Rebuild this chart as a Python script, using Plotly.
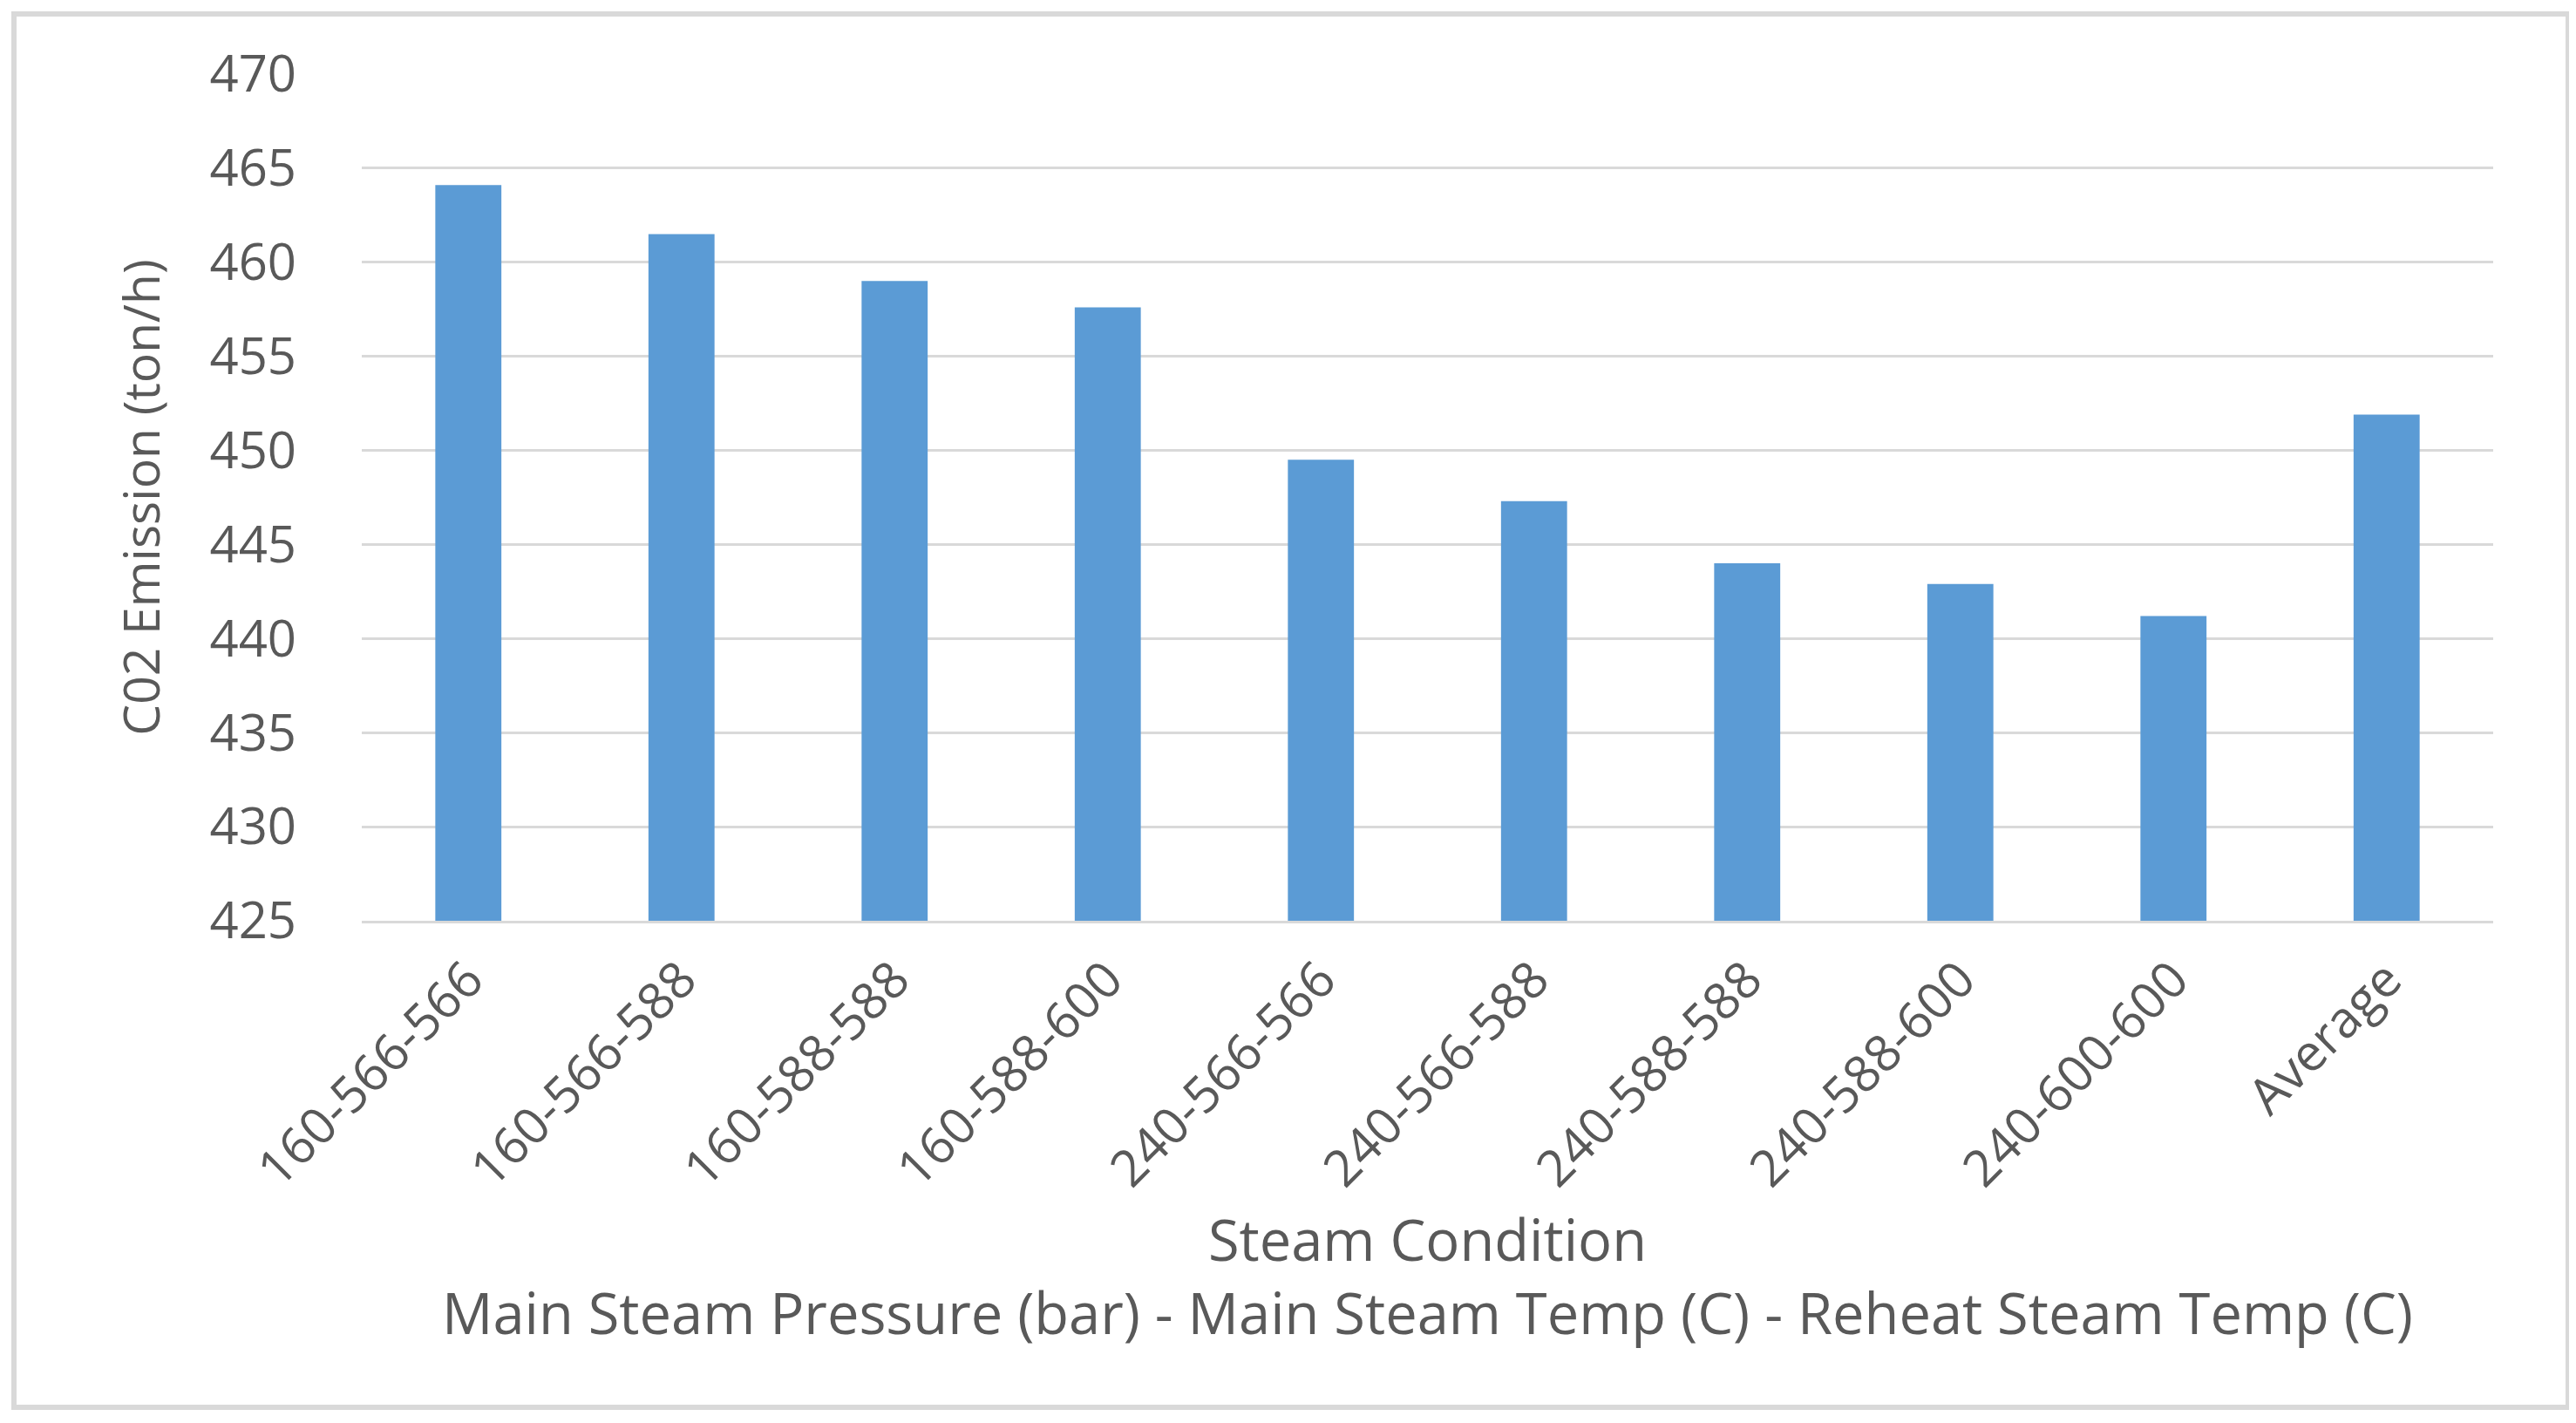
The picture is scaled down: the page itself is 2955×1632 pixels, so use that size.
import plotly.graph_objects as go

categories = ["160-566-566", "160-566-588", "160-588-588", "160-588-600",
              "240-566-566", "240-566-588", "240-588-588", "240-588-600",
              "240-600-600", "Average"]
co2_emission = [464.1, 461.5, 459.0, 457.6, 449.5, 447.3, 444.0, 442.9, 441.2, 451.9]
y_ticks = [425, 430, 435, 440, 445, 450, 455, 460, 465, 470]

# page body adds an 8px offset; the figure is sized to compensate
OFF = 8
W, H = 2955 - OFF, 1632 - OFF
ml, mt = 415 - OFF, 85 - OFF
pw, ph = 2445, 971
mr, mb = W - ml - pw, H - mt - ph

FONT = "Open Sans"
TXT = "#595959"
GRID = "#D9D9D9"

fig = go.Figure(go.Bar(
    x=categories, y=co2_emission,
    marker=dict(color="#5B9BD5", line=dict(width=0)),
))

def px_x(x):
    return (x - OFF - ml) / pw

def px_y(y):
    return 1 - (y - OFF - mt) / ph

fig.update_layout(
    width=W, height=H,
    margin=dict(l=ml, r=mr, t=mt, b=mb, autoexpand=False),
    paper_bgcolor="white", plot_bgcolor="white",
    bargap=0.69,
    showlegend=False,
    font=dict(family=FONT, color=TXT, size=58),
    shapes=[dict(type="rect", xref="paper", yref="paper",
                 x0=px_x(16), x1=px_x(2946), y0=px_y(16), y1=px_y(1614),
                 line=dict(color=GRID, width=6), fillcolor="rgba(0,0,0,0)", layer="below")],
)

fig.update_yaxes(
    range=[425, 470], tickvals=y_ticks, ticktext=[str(v) for v in y_ticks],
    showgrid=True, gridcolor=GRID, gridwidth=3,
    zeroline=False, showline=False,
    ticks="", ticklabelstandoff=74,
    tickfont=dict(family=FONT, size=58, color=TXT),
    title=dict(text="C02 Emission (ton/h)", font=dict(family=FONT, size=57, color=TXT), standoff=38),
    automargin=False,
)

fig.update_xaxes(
    showline=True, linecolor=GRID, linewidth=3,
    showgrid=False, ticks="", tickangle=-45, ticklabelstandoff=7,
    tickfont=dict(family=FONT, size=58, color=TXT),
    title=dict(text="Steam Condition<br>Main Steam Pressure (bar) - Main Steam Temp (C) - Reheat Steam Temp (C)",
               font=dict(family=FONT, size=65, color=TXT), standoff=0),
    automargin=False,
)

fig.write_html("out.html")
